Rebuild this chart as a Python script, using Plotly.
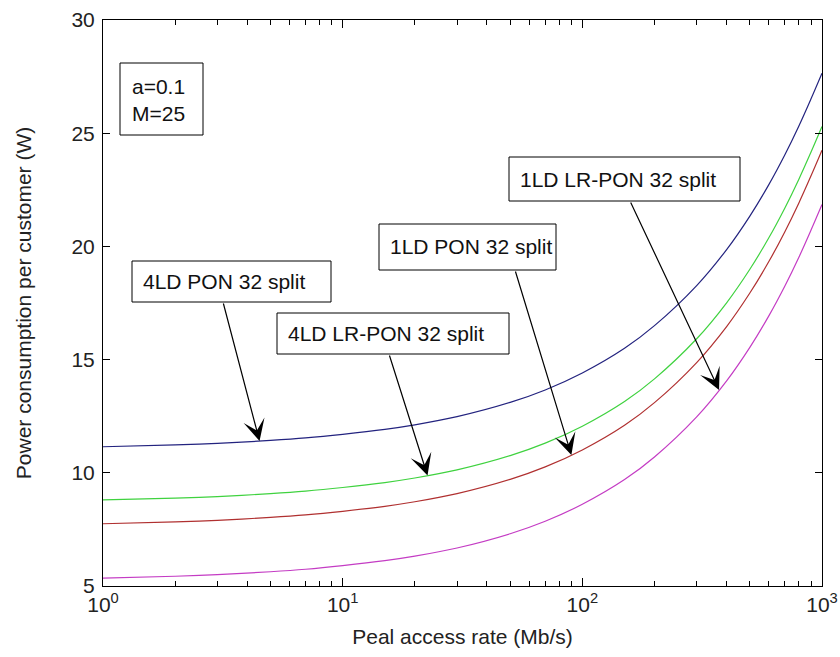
import numpy as np
import plotly.graph_objects as go

# Peak access rate (Mb/s)
rates = [1, 2, 3, 5, 7, 10, 15, 20, 30, 50, 70, 100, 150, 200, 300, 400, 500,
         600, 700, 800, 900, 1000]

# Power consumption per customer (W)
pon4_32 = [11.15, 11.23, 11.30, 11.43, 11.54, 11.70, 11.92, 12.12, 12.48, 13.11,
           13.66, 14.41, 15.50, 16.50, 18.27, 19.86, 21.34, 22.73, 24.05, 25.31,
           26.52, 27.65]
lrpon4_32 = [8.80, 8.88, 8.95, 9.08, 9.19, 9.35, 9.57, 9.77, 10.13, 10.76, 11.31,
             12.06, 13.15, 14.15, 15.92, 17.51, 18.99, 20.38, 21.70, 22.96, 24.17,
             25.30]
pon1_32 = [7.75, 7.83, 7.90, 8.03, 8.14, 8.30, 8.52, 8.72, 9.08, 9.71, 10.26,
           11.01, 12.10, 13.10, 14.87, 16.46, 17.94, 19.33, 20.65, 21.91, 23.12,
           24.25]
lrpon1_32 = [5.35, 5.43, 5.50, 5.63, 5.74, 5.90, 6.12, 6.32, 6.68, 7.31, 7.86,
             8.61, 9.70, 10.70, 12.47, 14.06, 15.54, 16.93, 18.25, 19.51, 20.72,
             21.85]

series_names = ["4LD PON 32 split", "4LD LR-PON 32 split",
                "1LD PON 32 split", "1LD LR-PON 32 split"]
series_values = [pon4_32, lrpon4_32, pon1_32, lrpon1_32]
series_colors = ["#23237f", "#3fd23f", "#b03030", "#c43cc4"]

# Rate at which each label's arrow touches its curve
arrow_rates = [4.5, 22.6, 90, 372]

x_ticks = [1, 10, 100, 1000]
x_ticktext = ["10<sup>0</sup>", "10<sup>1</sup>", "10<sup>2</sup>", "10<sup>3</sup>"]
x_minor = [m * 10 ** k for k in range(3) for m in range(2, 10)]
y_ticks = [5, 10, 15, 20, 25, 30]

FONT = "Liberation Sans, Arial, sans-serif"
FS = 21
W, H = 840, 657
L, R, T, B = 103, 18, 20, 71
PW, PH = W - L - R, H - T - B


def px(x):
    return (x - L) / PW


def py(y):
    return (H - B - y) / PH


fig = go.Figure()
for name, vals, col in zip(series_names, series_values, series_colors):
    fig.add_trace(go.Scatter(x=rates, y=vals, mode="lines", name=name,
                             line=dict(color=col, width=1.2, shape="spline")))

shapes = []
annotations = []

# Parameter box
shapes.append(dict(type="rect", xref="paper", yref="paper",
                   x0=px(120), x1=px(203), y0=py(135), y1=py(63),
                   line=dict(color="black", width=1), fillcolor="white"))
annotations.append(dict(xref="paper", yref="paper", x=px(130), y=py(100),
                        xanchor="left", yanchor="middle", align="left",
                        text="a=0.1<br>M=25", showarrow=False,
                        font=dict(family=FONT, size=FS, color="#111")))

# Label boxes: (left, top, right, bottom) and arrow tail (x, y)
label_boxes = [(132, 261, 331, 302), (277, 313, 509, 354),
               (379, 224, 556, 270), (509, 157, 740, 201)]
arrow_tails = [(223, 302), (389, 354), (515, 270), (630, 201)]

xa0, xa1 = 0.0, 3.0
ya0, ya1 = 5.0, 30.0
for name, vals, (bl, bt, br, bb), (tx, ty), ar in zip(
        series_names, series_values, label_boxes, arrow_tails, arrow_rates):
    shapes.append(dict(type="rect", xref="paper", yref="paper",
                       x0=px(bl), x1=px(br), y0=py(bb), y1=py(bt),
                       line=dict(color="black", width=1), fillcolor="white"))
    annotations.append(dict(xref="paper", yref="paper", x=px(bl + 9),
                            y=py((bt + bb) / 2), xanchor="left", yanchor="middle",
                            text=name, showarrow=False,
                            font=dict(family=FONT, size=FS, color="#111")))
    lx = np.log10(ar)
    yv = float(np.interp(lx, np.log10(rates), vals))
    tip_x = L + (lx - xa0) / (xa1 - xa0) * PW
    tip_y = T + (ya1 - yv) / (ya1 - ya0) * PH
    annotations.append(dict(x=lx, y=yv, xref="x", yref="y", text="",
                            showarrow=True, arrowhead=3, arrowsize=3.0,
                            arrowwidth=1.2, arrowcolor="black", standoff=0,
                            ax=tx - tip_x, ay=ty - tip_y))

fig.update_layout(
    width=W, height=H,
    margin=dict(l=L, r=R, t=T, b=B, autoexpand=False),
    paper_bgcolor="white", plot_bgcolor="white",
    showlegend=False,
    font=dict(family=FONT, size=FS, color="#222"),
    shapes=shapes, annotations=annotations,
    xaxis=dict(type="log", range=[xa0, xa1], tickvals=x_ticks, ticktext=x_ticktext,
               ticks="inside", ticklen=8, tickwidth=1, tickcolor="black",
               minor=dict(tickvals=x_minor, ticks="inside", ticklen=5,
                          tickcolor="black", tickwidth=1, showgrid=False),
               showline=True, linecolor="black", linewidth=1, mirror="ticks",
               showgrid=False, zeroline=False, automargin=False,
               tickfont=dict(family=FONT, size=FS, color="#222"),
               title=dict(text="Peal access rate (Mb/s)", standoff=14,
                          font=dict(family=FONT, size=FS, color="#222"))),
    yaxis=dict(range=[ya0, ya1], tickvals=y_ticks,
               ticks="inside", ticklen=7, tickwidth=1, tickcolor="black",
               showline=True, linecolor="black", linewidth=1, mirror="ticks",
               showgrid=False, zeroline=False, automargin=False,
               ticklabelstandoff=3,
               tickfont=dict(family=FONT, size=FS, color="#222"),
               title=dict(text="Power consumption per customer (W)", standoff=34,
                          font=dict(family=FONT, size=FS, color="#222"))),
)

fig.write_html("out.html")
